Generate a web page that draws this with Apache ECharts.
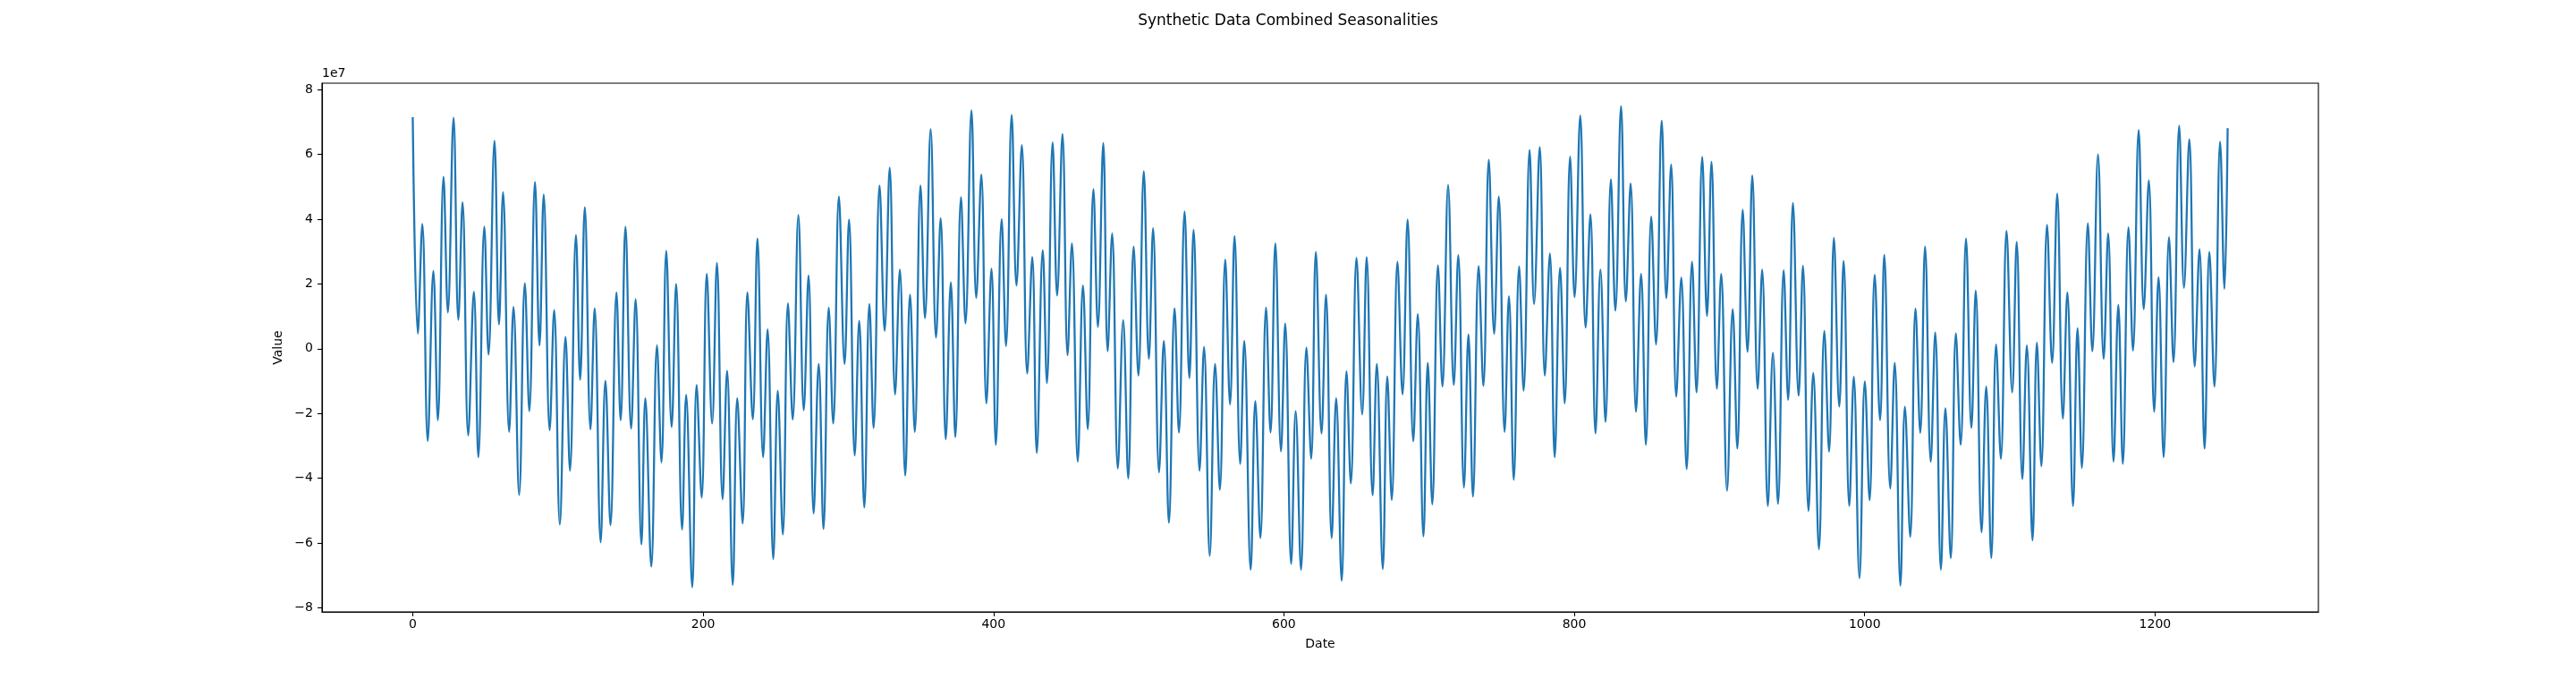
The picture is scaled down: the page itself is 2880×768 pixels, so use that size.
<!DOCTYPE html>
<html>
<head>
<meta charset="utf-8">
<title>Synthetic Data Combined Seasonalities</title>
<script src="https://cdn.jsdelivr.net/npm/echarts@6/dist/echarts.min.js"></script>
<style>
  html, body { margin: 0; padding: 0; background: #fff; }
  #main { width: 2880px; height: 768px; }
</style>
</head>
<body>
<div id="main"></div>
<script>
// local peaks and troughs, x = day index, value in units of 1e7
var dates = [
  0, 3.5, 6.6, 10.3, 14.2, 17.3, 21.2, 24.2, 28.1, 31.4, 34.3, 38.2, 42.1, 45.2, 49.3, 52.2,
  56.3, 59.4, 62.2, 66.4, 69.4, 73.3, 77.2, 80.3, 84.2, 87.3, 90.2, 94.3, 97.4, 101.3, 105.2, 108.3,
  112.4, 115.3, 118.5, 122.4, 125.3, 129.4, 132.7, 136.2, 140.3, 143.2, 146.5, 150.4, 153.5,
  157.5, 160.2, 164.3, 168.2, 171.3, 174.6, 178.3, 181.4, 185.5, 188.3, 192.5, 195.5, 199.0, 202.5,
  206.2, 209.5, 213.4, 216.5, 220.4, 223.5, 227.2, 230.5, 234.2, 237.4, 241.3, 244.4, 248.3, 251.4,
  254.9, 258.4, 261.7, 265.6, 269.3, 272.6, 276.1, 279.6, 282.9, 286.5, 289.6, 293.5, 297.4, 300.5,
  304.4, 307.5, 311.0, 314.5,
  317.4, 321.5, 325.0, 328.5, 332.2, 335.5, 339.2, 342.5, 345.8, 349.7, 352.8, 356.7, 360.4, 363.6,
  367.1, 370.6, 373.7, 377.6, 380.7, 384.8, 388.1, 391.6, 395.1, 398.6, 401.6, 405.6, 408.6, 412.5,
  415.8, 419.5, 423.2, 426.7, 429.8, 433.9, 436.8, 440.7, 443.8, 447.5, 451.0, 454.0, 458.0, 461.6,
  464.9, 468.8, 471.9, 475.6,
  478.6, 481.7, 485.6, 489.3, 492.8, 496.5, 499.8, 503.5, 507.0, 509.9, 514.0, 517.3, 520.8, 524.7,
  527.7, 531.6, 534.9, 537.8, 541.9, 545.0, 548.9, 552.6, 555.9, 559.6, 562.9, 566.0, 569.9, 572.7,
  577.1, 580.3, 583.8, 587.7, 590.8, 594.1, 598.0, 600.9, 605.0, 608.1, 611.8, 615.5, 618.8, 622.0,
  625.9, 629.0, 632.9, 636.0,
  639.8, 643.1, 646.1, 650.0, 653.9, 657.0, 661.1, 664.0, 668.1, 671.2, 674.3, 678.2, 681.7, 685.2,
  689.1, 692.2, 696.1, 699.1, 702.2, 706.1, 709.2, 713.1, 717.0, 720.1, 724.0, 727.1, 730.2, 734.1,
  737.4, 741.1, 744.8, 748.0, 752.0, 755.0, 758.3, 762.0, 765.1, 769.2, 772.3, 776.2, 779.7, 783.2,
  786.5, 790.2, 793.4, 797.1,
  800.2, 804.1, 807.8, 811.1, 814.6, 818.0, 821.5, 825.2, 828.3, 832.2, 835.5, 838.8, 842.5, 846.0,
  849.3, 853.0, 856.3, 860.2, 863.4, 866.7, 870.2, 873.7, 877.4, 881.1, 884.2, 888.1, 891.4, 894.5,
  898.2, 901.2, 905.2, 909.1, 912.3, 916.0, 919.3, 922.6, 926.3, 929.4, 933.3, 936.8, 940.3, 944.2,
  947.3, 950.6, 954.5, 957.5,
  961.3, 964.6, 968.5, 972.2, 975.5, 978.8, 982.5, 985.5, 989.4, 992.5, 996.4, 1000.1, 1003.4, 1006.9,
  1010.6, 1013.5, 1017.6, 1020.7, 1024.6, 1027.7, 1031.4, 1035.0, 1038.3, 1041.6, 1045.5, 1048.6,
  1052.5, 1055.6, 1059.3, 1062.8, 1066.1, 1069.8, 1073.5, 1076.5, 1080.5, 1083.7, 1087.2, 1090.5,
  1093.8, 1097.7, 1101.6, 1104.7, 1108.6, 1111.7, 1115.6,
  1118.6, 1121.7, 1125.6, 1129.1, 1132.6, 1136.5, 1139.6, 1143.5, 1146.6, 1149.6, 1153.7, 1156.8,
  1160.7, 1164.6, 1167.7, 1171.4, 1174.7, 1177.8, 1181.7, 1184.8, 1188.7, 1192.2, 1195.7, 1199.4,
  1202.4, 1205.9, 1209.6, 1212.7, 1216.6, 1219.9, 1223.6, 1227.3, 1230.6, 1234.1, 1237.4, 1240.9,
  1244.8, 1247.8, 1250
];
var values = [
  7.15, 0.47, 3.85, -2.85, 2.40, -2.21, 5.31, 1.12, 7.13, 0.89, 4.52, -2.68, 1.76, -3.35, 3.77, -0.18,
  6.42, 0.75, 4.83, -2.57, 1.29, -4.52, 2.02, -1.93, 5.15, 0.10, 4.76, -2.52, 1.19, -5.43, 0.36, -3.77,
  3.51, -0.96, 4.37, -2.49, 1.25, -5.98, -0.99, -5.45, 1.74, -2.21, 3.77, -2.47, 1.53,
  -6.05, -1.53, -6.73, 0.10, -3.51, 3.02, -2.42, 2.00, -5.59, -1.43, -7.37, -1.12, -4.60, 2.31,
  -2.31, 2.65, -4.65, -0.68, -7.30, -1.53, -5.40, 1.74, -2.18, 3.40, -3.35, 0.60, -6.50, -1.30,
  -5.74, 1.40, -2.19, 4.13, -1.90, 2.26, -5.09, -0.47, -5.57, 1.27, -2.31, 4.70, -0.47, 3.99,
  -3.30, 0.86, -4.91, 1.38,
  -2.45, 5.04, 0.55, 5.59, -1.41, 2.44, -3.92, 1.67, -2.57, 5.04, 0.94, 6.78, 0.34, 4.03,
  -2.80, 2.05, -2.73, 4.68, 0.78, 7.36, 1.57, 5.38, -1.69, 2.47, -2.97, 4.00, 0.08, 7.22,
  1.95, 6.29, -0.77, 2.83, -3.22, 3.04, -1.06, 6.37, 1.64, 6.63, -0.20, 3.25, -3.49, 1.95,
  -2.49, 4.93, 0.67, 6.35,
  -0.08, 3.56, -3.70, 0.88, -4.01, 3.15, -0.83, 5.48, -0.31, 3.72, -3.82, 0.24, -5.38, 1.25,
  -2.59, 4.24, -0.91, 3.67, -3.77, 0.05, -6.40, -0.47, -4.36, 2.75, -1.72, 3.48, -3.56, 0.24,
  -6.83, -1.62, -5.85, 1.27, -2.59, 3.25, -3.17, 0.78, -6.65, -1.93, -6.83, 0.03, -3.40, 2.99,
  -2.62, 1.67, -5.85, -1.53,
  -7.17, -0.70, -4.16, 2.81, -2.03, 2.83, -4.53, -0.47, -6.81, -0.86, -4.67, 2.68, -1.41, 3.99,
  -2.86, 1.07, -5.80, -0.44, -4.81, 2.57, -1.17, 5.05, -1.12, 2.89, -4.29, 0.44, -4.57, 2.55,
  -1.15, 5.83, 0.46, 4.70, -2.57, 1.62, -4.05, 2.54, -1.30, 6.14, 1.38, 6.23, -0.83, 2.94,
  -3.35, 2.50, -1.69, 5.93,
  1.59, 7.20, 0.65, 4.15, -2.62, 2.44, -2.26, 5.23, 1.17, 7.49, 1.46, 5.10, -1.95, 2.31,
  -2.97, 4.08, 0.13, 7.04, 1.56, 5.69, -1.48, 2.19, -3.72, 2.68, -1.35, 5.92, 1.01, 5.77,
  -1.24, 2.31, -4.39, 1.22, -3.09, 4.29, -0.10, 5.35, -1.24, 2.44, -4.86, -0.13, -4.79, 2.42,
  -1.58, 4.50, -1.45, 2.56,
  -5.01, -0.75, -6.19, 0.55, -3.18, 3.42, -1.79, 2.71, -4.86, -0.87, -7.09, -1.01, -4.68, 2.28,
  -2.21, 2.90, -4.32, -0.44, -7.32, -1.79, -5.81, 1.24, -2.60, 3.15, -3.49, 0.50,
  -6.83, -1.84, -6.47, 0.47, -2.97, 3.40, -2.45, 1.79, -5.67, -1.17, -6.47, 0.13,
  -3.40, 3.64, -1.35, 3.30, -4.03, 0.10, -5.92,
  0.18, -3.63, 3.82, -0.44, 4.79, -2.16, 1.74, -4.86, 0.63, -3.68, 3.87, -0.08,
  6.00, -0.31, 3.56, -3.49, 1.35, -3.56, 3.75, -0.06, 6.75, 1.22, 5.20, -1.95,
  2.21, -3.35, 3.44, -0.42, 6.89, 1.88, 6.47, -0.55, 3.07, -3.09, 2.99, -1.17,
  6.39, 1.85, 6.81
];
var xTicks = [0, 200, 400, 600, 800, 1000, 1200];
var yTicks = [-8, -6, -4, -2, 0, 2, 4, 6, 8];

var seriesData = [];
for (var i = 0; i < dates.length; i++) {
  seriesData.push([dates[i], values[i]]);
}

var font = 'DejaVu Sans';
var myChart = echarts.init(document.getElementById('main'), null, { renderer: 'canvas' });
var option = {
  animation: false,
  backgroundColor: '#fff',
  title: {
    text: 'Synthetic Data Combined Seasonalities',
    left: 'center',
    top: 10,
    textStyle: { fontFamily: font, fontSize: 17, fontWeight: 'normal', color: '#000' }
  },
  graphic: [{
    type: 'text',
    left: 360,
    top: 75,
    style: { text: '1e7', font: '14px "DejaVu Sans"', fill: '#000' }
  }],
  grid: {
    left: 360,
    right: 288,
    top: 93,
    bottom: 84,
    show: true,
    borderColor: '#000',
    borderWidth: 1.1,
    containLabel: false
  },
  xAxis: {
    type: 'value',
    min: -62.5,
    max: 1312.5,
    name: 'Date',
    nameLocation: 'middle',
    nameGap: 29,
    nameTextStyle: { fontFamily: font, fontSize: 14, color: '#000' },
    axisLine: { show: true, onZero: false, lineStyle: { color: '#000', width: 1.1 } },
    axisTick: { show: true, length: 5, lineStyle: { color: '#000', width: 1.1 }, customValues: xTicks },
    axisLabel: {
      margin: 7,
      fontFamily: font,
      fontSize: 14,
      color: '#000',
      customValues: xTicks,
      formatter: function (v) { return String(v); }
    },
    splitLine: { show: false }
  },
  yAxis: {
    type: 'value',
    min: -8.13,
    max: 8.2,
    name: 'Value',
    nameLocation: 'middle',
    nameRotate: 90,
    nameGap: 38,
    nameTextStyle: { fontFamily: font, fontSize: 14, color: '#000' },
    axisLine: { show: true, onZero: false, lineStyle: { color: '#000', width: 1.1 } },
    axisTick: { show: true, length: 5, lineStyle: { color: '#000', width: 1.1 }, customValues: yTicks },
    axisLabel: {
      margin: 10,
      fontFamily: font,
      fontSize: 14,
      color: '#000',
      customValues: yTicks,
      formatter: function (v) {
        return v < 0 ? '\u2212' + Math.abs(v) : String(v);
      }
    },
    splitLine: { show: false }
  },
  series: [{
    type: 'line',
    data: seriesData,
    showSymbol: false,
    symbol: 'none',
    smooth: 0.4,
    lineStyle: { color: '#1f77b4', width: 2.3 },
    itemStyle: { color: '#1f77b4' }
  }]
};
myChart.setOption(option);
</script>
</body>
</html>
